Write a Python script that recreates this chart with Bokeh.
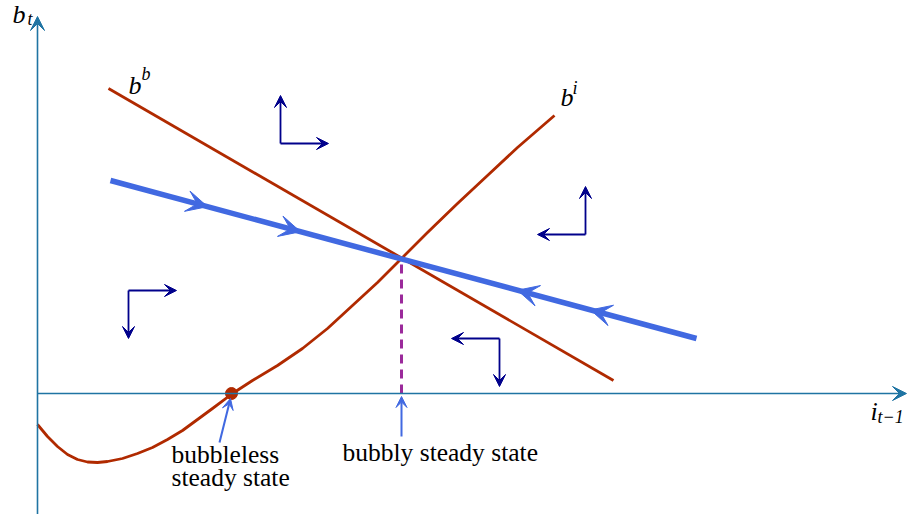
import numpy as np
from bokeh.plotting import figure
from bokeh.models import Range1d, Arrow, VeeHead, ColumnDataSource
from bokeh.core.properties import value
from bokeh.embed import file_html
from bokeh.resources import INLINE

# ---- data (model units, origin where the two axes cross) ----
bb_x = [71, 576]                      # b^b locus
bb_y = [305, 13]
bi_x = [0, 10, 20, 30, 40, 50, 60, 70, 85, 100, 115, 130, 145, 160, 175, 195, 215, 240,
        265, 290, 315, 340, 364, 390, 420, 450, 480, 517]
bi_y = [-31, -43, -53, -61, -66, -68.5, -69, -68, -65, -60, -54, -46, -37, -26, -15, 0, 13, 28,
        45, 65, 88, 111, 135, 161, 190, 218, 246, 278]
saddle_x = [73, 659]                  # saddle path
saddle_y = [213, 55]
flow_arrow_x = [170, 263, 480, 553]   # arrow tips on saddle path
flow_arrow_dir = [1, 1, -1, -1]
phase_x = [243, 91, 548, 462]         # phase arrows (corner points)
phase_y = [250, 103, 159, 55]
phase_dx = [1, 1, -1, -1]
phase_dy = [1, -1, 1, -1]
phase_len = 48
bubbleless_ss = [194, 0]
bubbly_ss = [364, 135]
x_axis_end = 869
y_axis_end = 377
y_axis_start = -125

RED = "#b02a00"
BLUE = "#4169e1"
NAVY = "#00008b"
AXIS = "#1f74a3"
PURPLE = "#9b2a9b"
SERIF = value("Liberation Serif")

p = figure(width=909, height=514, x_range=Range1d(-37, 872), y_range=Range1d(-121, 393),
           output_backend="svg", toolbar_location=None, min_border=0,
           x_axis_type=None, y_axis_type=None)
p.grid.visible = False
p.outline_line_color = None
p.background_fill_color = "white"
p.border_fill_color = "white"

# axes
p.add_layout(Arrow(x_start=0, y_start=0, x_end=x_axis_end, y_end=0, line_color=AXIS, line_width=1.6,
                   end=VeeHead(size=14, fill_color=AXIS, line_color=AXIS, line_width=1)))
p.add_layout(Arrow(x_start=0, y_start=y_axis_start, x_end=0, y_end=y_axis_end, line_color=AXIS, line_width=1.6,
                   end=VeeHead(size=14, fill_color=AXIS, line_color=AXIS, line_width=1)))

# curves
p.line(bb_x, bb_y, line_color=RED, line_width=2.8)
p.line(bi_x, bi_y, line_color=RED, line_width=2.8, line_join="round")

# dashed vertical at bubbly steady state
p.line([bubbly_ss[0], bubbly_ss[0]], [0, bubbly_ss[1]], line_color=PURPLE, line_width=3, line_dash="9 6")

# saddle path
p.line(saddle_x, saddle_y, line_color=BLUE, line_width=5.5)
fx = np.array(flow_arrow_x, dtype=float)
fy = np.interp(fx, saddle_x, saddle_y)
fd = np.array(flow_arrow_dir, dtype=float)
slope = (saddle_y[1] - saddle_y[0]) / (saddle_x[1] - saddle_x[0])
src_flow = ColumnDataSource(dict(xs=fx - fd * 4, ys=fy - fd * 4 * slope, xe=fx, ye=fy))
p.add_layout(Arrow(source=src_flow, x_start="xs", y_start="ys", x_end="xe", y_end="ye", line_alpha=0,
                   end=VeeHead(size=21, fill_color=BLUE, line_color=BLUE, line_width=1)))

# phase arrows
px_ = np.array(phase_x, dtype=float)
py_ = np.array(phase_y, dtype=float)
hsrc = ColumnDataSource(dict(xs=px_, ys=py_, xe=px_ + np.array(phase_dx) * phase_len, ye=py_))
vsrc = ColumnDataSource(dict(xs=px_, ys=py_, xe=px_, ye=py_ + np.array(phase_dy) * phase_len))
for s in (hsrc, vsrc):
    p.add_layout(Arrow(source=s, x_start="xs", y_start="ys", x_end="xe", y_end="ye",
                       line_color=NAVY, line_width=1.8,
                       end=VeeHead(size=12, fill_color=NAVY, line_color=NAVY, line_width=1)))

# steady state marker
p.scatter([bubbleless_ss[0]], [bubbleless_ss[1]], size=12, color=RED)

# annotation arrows
asrc = ColumnDataSource(dict(xs=[bubbleless_ss[0] - 12, bubbly_ss[0]], ys=[-49, -43],
                             xe=[bubbleless_ss[0] - 1, bubbly_ss[0]], ye=[-5, -3]))
p.add_layout(Arrow(source=asrc, x_start="xs", y_start="ys", x_end="xe", y_end="ye",
                   line_color=BLUE, line_width=2,
                   end=VeeHead(size=11, fill_color=BLUE, line_color=BLUE, line_width=1)))

# annotation texts
ann_text = ["bubbleless", "steady state", "bubbly steady state"]
p.text(x=[134, 134, 305], y=[-61, -84, -59], text=ann_text, text_font=SERIF,
       text_font_size="25.5px", text_color="black", text_baseline="alphabetic", text_align="left")

# math labels: main symbols
main_text = ["b", "b", "b", "i"]
p.text(x=[-25, 91, 523, 833], y=[379, 308, 296, -18], text=main_text, text_font=SERIF,
       text_font_style="italic", text_font_size="26px", text_color="black",
       text_baseline="alphabetic", text_align="left")
sub_text = ["t", "b", "i", "t\u22121"]
p.text(x=[-10, 104, 535, 840], y=[375, 320, 306, -23], text=sub_text, text_font=SERIF,
       text_font_style="italic", text_font_size="18px", text_color="black",
       text_baseline="alphabetic", text_align="left")

open("out.html", "w").write(file_html(p, INLINE))
